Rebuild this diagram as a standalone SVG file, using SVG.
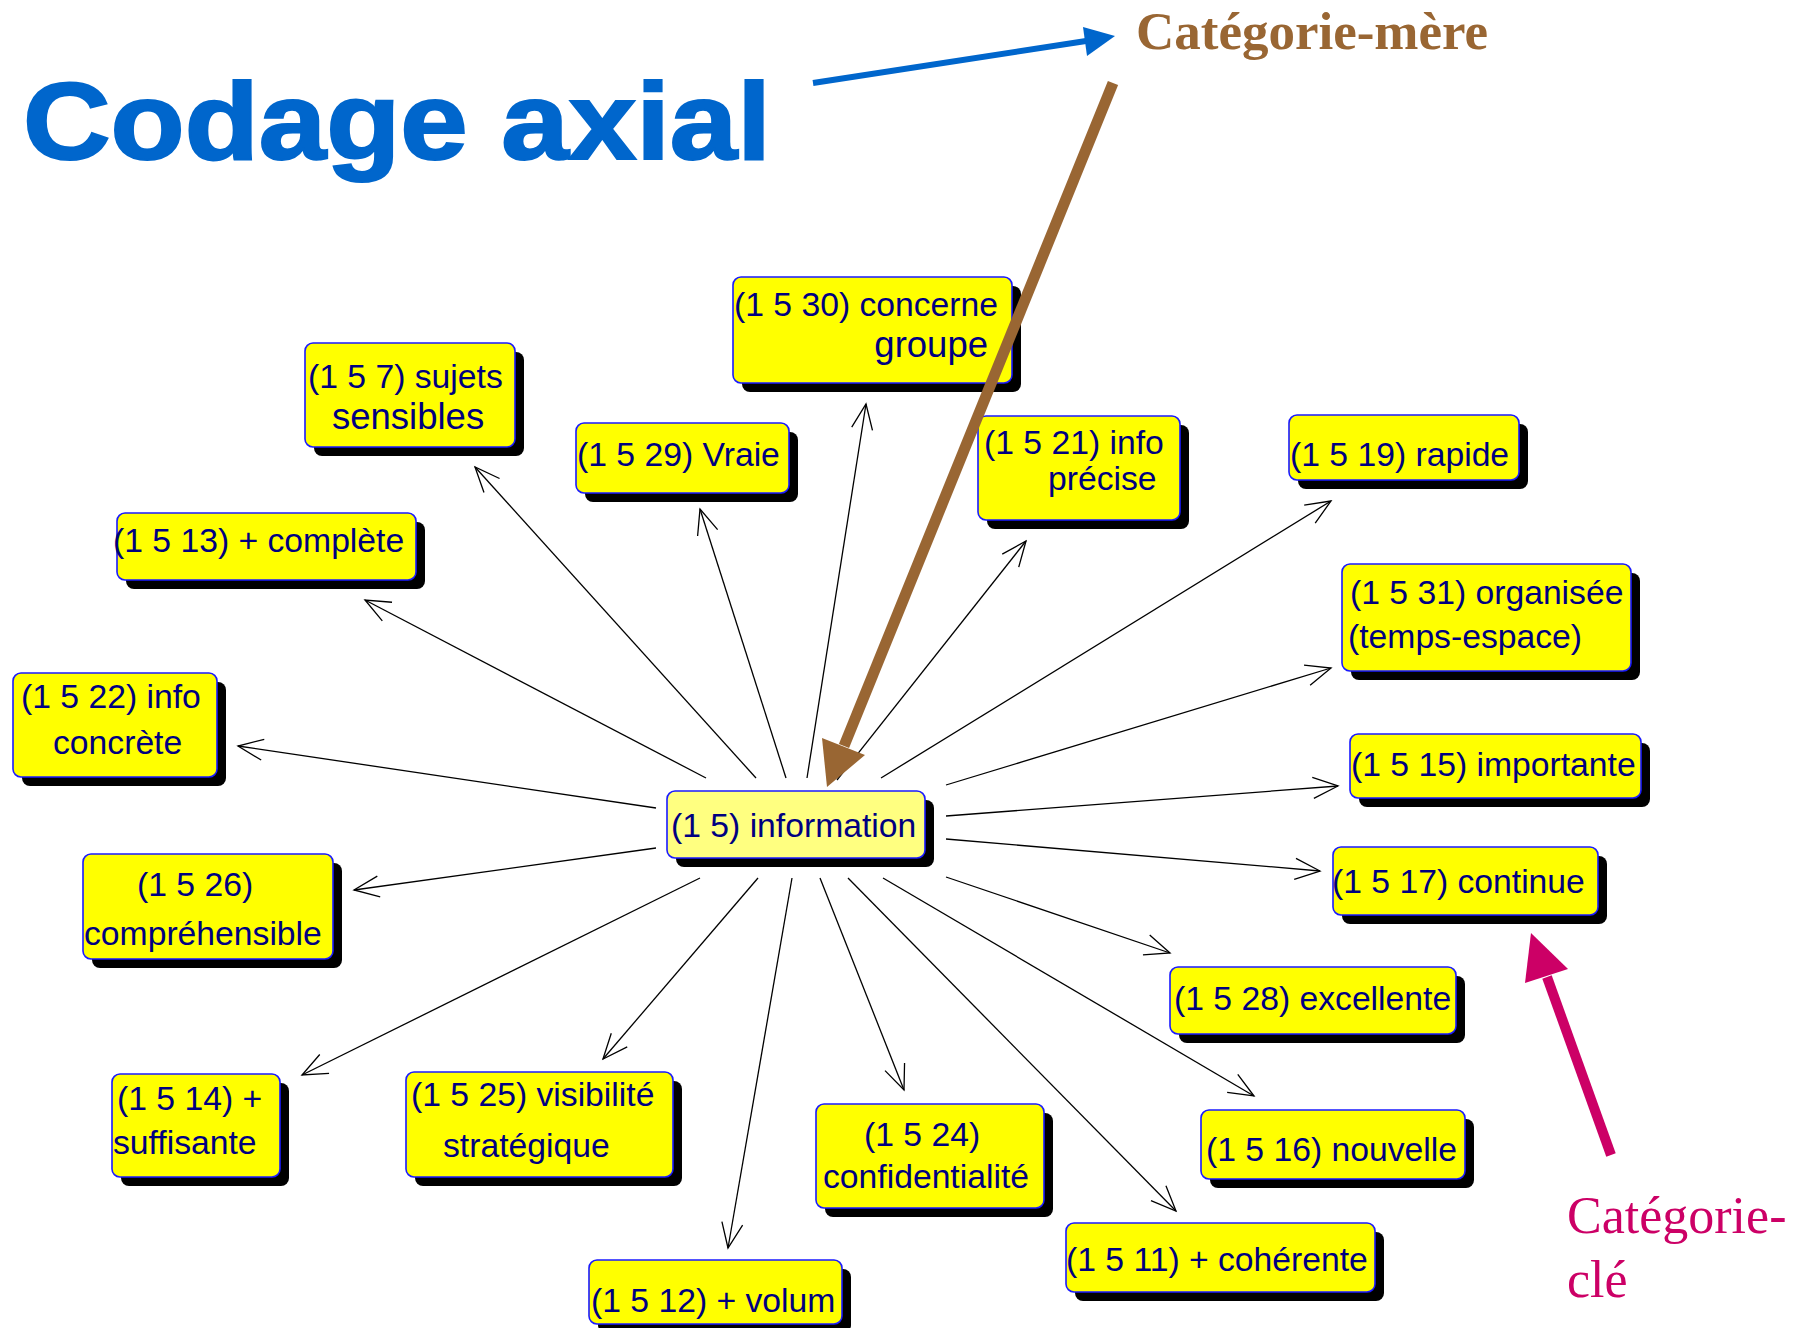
<svg xmlns="http://www.w3.org/2000/svg" width="1809" height="1328" viewBox="0 0 1809 1328">
  <defs>
    <marker id="open" markerUnits="userSpaceOnUse" markerWidth="30" markerHeight="26" viewBox="-27 -13 30 26" refX="0" refY="0" orient="auto">
      <path d="M-25,-10.5 L0,0 L-25,10.5" fill="none" stroke="#000" stroke-width="1.3"/>
    </marker>
  </defs>
  <style>
    .sh { fill: #000; }
    .box { fill: #FFFF00; stroke: #1A1AFF; stroke-width: 1.6; }
    .core { fill: #FFFF80; stroke: #1A1AFF; stroke-width: 1.6; }
    .t { font-family: "Liberation Sans", Arial, sans-serif; font-size: 33.7px; fill: #000080; }
    .big { font-size: 36.5px; }
    .link { stroke: #000; stroke-width: 1.3; fill: none; marker-end: url(#open); }
  </style>
  <rect width="1809" height="1328" fill="#fff"/>

  <!-- title -->
  <text x="23" y="159" font-family="'Liberation Sans', Arial, sans-serif" font-weight="bold" font-size="109" fill="#0066CC" stroke="#0066CC" stroke-width="2.2" textLength="748" lengthAdjust="spacingAndGlyphs">Codage axial</text>

  <!-- connectors from the central category -->
  <g id="connectors">
    <line class="link" x1="706" y1="778" x2="365" y2="600"/>
    <line class="link" x1="756" y1="778" x2="475" y2="467"/>
    <line class="link" x1="786" y1="778" x2="700" y2="509"/>
    <line class="link" x1="807" y1="778" x2="866" y2="404"/>
    <line class="link" x1="837" y1="780" x2="1026" y2="541"/>
    <line class="link" x1="881" y1="778" x2="1331" y2="501"/>
    <line class="link" x1="946" y1="785" x2="1331" y2="668"/>
    <line class="link" x1="946" y1="816" x2="1338" y2="786"/>
    <line class="link" x1="946" y1="839" x2="1320" y2="871"/>
    <line class="link" x1="946" y1="877" x2="1170" y2="953"/>
    <line class="link" x1="656" y1="808" x2="238" y2="746"/>
    <line class="link" x1="656" y1="848" x2="354" y2="890"/>
    <line class="link" x1="700" y1="878" x2="302" y2="1075"/>
    <line class="link" x1="758" y1="878" x2="603" y2="1059"/>
    <line class="link" x1="792" y1="878" x2="728" y2="1248"/>
    <line class="link" x1="820" y1="878" x2="904" y2="1090"/>
    <line class="link" x1="848" y1="878" x2="1176" y2="1211"/>
    <line class="link" x1="883" y1="878" x2="1254" y2="1096"/>
  </g>

  <!-- nodes -->
  <g id="n1_5_30">
    <rect class="sh" x="742" y="286" width="279" height="106" rx="8"/>
    <rect class="box" x="733" y="277" width="279" height="106" rx="8"/>
    <text class="t" x="734" y="316">(1 5 30) concerne</text>
    <text class="t big" x="988" y="357" text-anchor="end">groupe</text>
  </g>
  <g id="n1_5_7">
    <rect class="sh" x="314" y="352" width="210" height="104" rx="8"/>
    <rect class="box" x="305" y="343" width="210" height="104" rx="8"/>
    <text class="t" x="308" y="388">(1 5 7) sujets</text>
    <text class="t big" x="332" y="429">sensibles</text>
  </g>
  <g id="n1_5_29">
    <rect class="sh" x="585" y="432" width="213" height="70" rx="8"/>
    <rect class="box" x="576" y="423" width="213" height="70" rx="8"/>
    <text class="t" x="577" y="466">(1 5 29) Vraie</text>
  </g>
  <g id="n1_5_21">
    <rect class="sh" x="987" y="425" width="202" height="104" rx="8"/>
    <rect class="box" x="978" y="416" width="202" height="104" rx="8"/>
    <text class="t" x="984" y="454">(1 5 21) info</text>
    <text class="t" x="1048" y="490">précise</text>
  </g>
  <g id="n1_5_19">
    <rect class="sh" x="1298" y="424" width="230" height="65" rx="8"/>
    <rect class="box" x="1289" y="415" width="230" height="65" rx="8"/>
    <text class="t" x="1290" y="466">(1 5 19) rapide</text>
  </g>
  <g id="n1_5_13">
    <rect class="sh" x="126" y="522" width="299" height="67" rx="8"/>
    <rect class="box" x="117" y="513" width="299" height="67" rx="8"/>
    <text class="t" x="113" y="552">(1 5 13) + complète</text>
  </g>
  <g id="n1_5_31">
    <rect class="sh" x="1351" y="573" width="289" height="107" rx="8"/>
    <rect class="box" x="1342" y="564" width="289" height="107" rx="8"/>
    <text class="t" x="1350" y="604">(1 5 31) organisée</text>
    <text class="t" x="1348" y="648">(temps-espace)</text>
  </g>
  <g id="n1_5_22">
    <rect class="sh" x="22" y="682" width="204" height="104" rx="8"/>
    <rect class="box" x="13" y="673" width="204" height="104" rx="8"/>
    <text class="t" x="21" y="708">(1 5 22) info</text>
    <text class="t" x="53" y="754">concrète</text>
  </g>
  <g id="n1_5_15">
    <rect class="sh" x="1359" y="743" width="291" height="64" rx="8"/>
    <rect class="box" x="1350" y="734" width="291" height="64" rx="8"/>
    <text class="t" x="1351" y="776">(1 5 15) importante</text>
  </g>
  <g id="n1_5">
    <rect class="sh" x="676" y="800" width="258" height="67" rx="8"/>
    <rect class="core" x="667" y="791" width="258" height="67" rx="8"/>
    <text class="t" x="671" y="837">(1 5) information</text>
  </g>
  <g id="n1_5_26">
    <rect class="sh" x="92" y="863" width="250" height="105" rx="8"/>
    <rect class="box" x="83" y="854" width="250" height="105" rx="8"/>
    <text class="t" x="137" y="896">(1 5 26)</text>
    <text class="t" x="84" y="945">compréhensible</text>
  </g>
  <g id="n1_5_17">
    <rect class="sh" x="1342" y="856" width="265" height="68" rx="8"/>
    <rect class="box" x="1333" y="847" width="265" height="68" rx="8"/>
    <text class="t" x="1332" y="893">(1 5 17) continue</text>
  </g>
  <g id="n1_5_28">
    <rect class="sh" x="1179" y="976" width="286" height="67" rx="8"/>
    <rect class="box" x="1170" y="967" width="286" height="67" rx="8"/>
    <text class="t" x="1174" y="1010">(1 5 28) excellente</text>
  </g>
  <g id="n1_5_14">
    <rect class="sh" x="121" y="1083" width="168" height="103" rx="8"/>
    <rect class="box" x="112" y="1074" width="168" height="103" rx="8"/>
    <text class="t" x="117" y="1110">(1 5 14) +</text>
    <text class="t" x="113" y="1154">suffisante</text>
  </g>
  <g id="n1_5_25">
    <rect class="sh" x="415" y="1081" width="267" height="105" rx="8"/>
    <rect class="box" x="406" y="1072" width="267" height="105" rx="8"/>
    <text class="t" x="411" y="1106">(1 5 25) visibilité</text>
    <text class="t" x="443" y="1157">stratégique</text>
  </g>
  <g id="n1_5_24">
    <rect class="sh" x="825" y="1113" width="228" height="104" rx="8"/>
    <rect class="box" x="816" y="1104" width="228" height="104" rx="8"/>
    <text class="t" x="864" y="1146">(1 5 24)</text>
    <text class="t" x="823" y="1188">confidentialité</text>
  </g>
  <g id="n1_5_16">
    <rect class="sh" x="1210" y="1119" width="264" height="69" rx="8"/>
    <rect class="box" x="1201" y="1110" width="264" height="69" rx="8"/>
    <text class="t" x="1206" y="1161">(1 5 16) nouvelle</text>
  </g>
  <g id="n1_5_11">
    <rect class="sh" x="1075" y="1232" width="309" height="69" rx="8"/>
    <rect class="box" x="1066" y="1223" width="309" height="69" rx="8"/>
    <text class="t" x="1066" y="1271">(1 5 11) + cohérente</text>
  </g>
  <g id="n1_5_12">
    <rect class="sh" x="598" y="1269" width="253" height="64" rx="8"/>
    <rect class="box" x="589" y="1260" width="253" height="64" rx="8"/>
    <text class="t" x="591" y="1312">(1 5 12) + volum</text>
  </g>

  <!-- annotations -->
  <g id="annotation-mere">
    <line x1="813" y1="83" x2="1086" y2="41" stroke="#0066CC" stroke-width="6"/>
    <polygon points="1115,36 1083,27 1087,56" fill="#0066CC"/>
    <text x="1136" y="49" font-family="'Liberation Serif', 'Times New Roman', serif" font-weight="bold" font-size="53" fill="#996633">Catégorie-mère</text>
    <line x1="1113" y1="83" x2="844" y2="746" stroke="#996633" stroke-width="11"/>
    <polygon points="827,787 865,755 822,738" fill="#996633"/>
  </g>
  <g id="annotation-cle">
    <line x1="1611" y1="1155" x2="1547" y2="977" stroke="#CC0066" stroke-width="10"/>
    <polygon points="1531,933 1525,983 1568,969" fill="#CC0066"/>
    <text font-family="'Liberation Serif', 'Times New Roman', serif" font-size="52" fill="#CC0066">
      <tspan x="1567" y="1233">Catégorie-</tspan>
      <tspan x="1567" y="1297">clé</tspan>
    </text>
  </g>
</svg>
